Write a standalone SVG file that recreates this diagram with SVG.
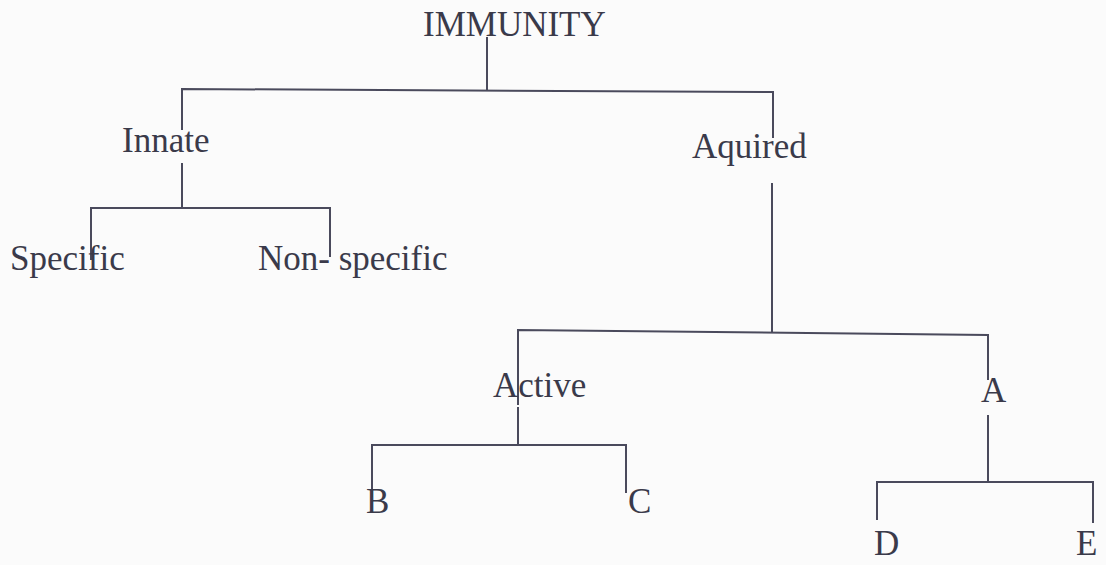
<svg xmlns="http://www.w3.org/2000/svg" width="1106" height="565" viewBox="0 0 1106 565">
<style>
.bg{fill:#fbfbfb}
.t{font-family:"Liberation Serif","Times New Roman",serif;font-size:35px;fill:#3a3a4a}
.c{fill:none;stroke:#4a4a5c;stroke-width:2;stroke-linecap:butt}
</style>
<rect class="bg" x="0" y="0" width="1106" height="565"/>
<g id="connectors">
<path class="c" d="M487 37 V90"/>
<path class="c" d="M182 130 V89 L773 92 V138"/>
<path class="c" d="M182 163 V208"/>
<path class="c" d="M91 260 V208 H330 V257"/>
<path class="c" d="M772 183 V333"/>
<path class="c" d="M518 405 V330 L988 335 V380"/>
<path class="c" d="M518 407 V445"/>
<path class="c" d="M372 497 V445 H626 V493"/>
<path class="c" d="M988 415 V482"/>
<path class="c" d="M877 520 V482 H1093 V523"/>
</g>
<g id="immunity"><text class="t" x="423" y="36">IMMUNITY</text></g>
<g id="innate"><text class="t" x="122" y="152">Innate</text></g>
<g id="aquired"><text class="t" x="692" y="158">Aquired</text></g>
<g id="specific"><text class="t" x="10" y="270">Specific</text></g>
<g id="nonspecific"><text class="t" x="258" y="270">Non- specific</text></g>
<g id="active"><text class="t" x="493" y="397">Active</text></g>
<g id="a"><text class="t" x="981" y="402">A</text></g>
<g id="b"><text class="t" x="366" y="513">B</text></g>
<g id="c"><text class="t" x="628" y="513">C</text></g>
<g id="d"><text class="t" x="874" y="555">D</text></g>
<g id="e"><text class="t" x="1076" y="555">E</text></g>
</svg>
